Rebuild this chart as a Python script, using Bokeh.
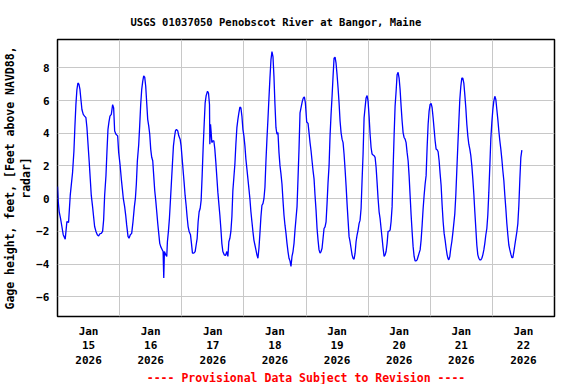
from bokeh.plotting import figure
from bokeh.models import FixedTicker, Range1d, Title
from bokeh.embed import file_html
from bokeh.resources import INLINE

# Hours since 2026-01-15 00:00 and gage height (ft above NAVD88)
hours = [
    0.0, 0.3, 0.66, 1.17, 1.69, 2.21, 2.98, 3.63, 4.27, 4.92, 5.43, 5.82, 6.34, 6.72, 7.11, 7.5, 7.88,
    8.27, 8.66, 9.05, 9.43, 9.95, 10.46, 10.98, 11.37, 11.75, 12.27, 12.66, 13.05, 13.56, 13.95, 14.34,
    14.85, 15.37, 15.88, 16.4, 16.92, 17.43, 17.82, 18.21, 18.72, 19.11, 19.5, 19.88, 20.27, 20.79,
    21.3, 21.69, 22.08, 22.59, 23.24, 23.63, 24.14, 24.66, 25.05, 25.43, 25.95, 26.34, 26.72, 27.24,
    27.63, 28.14, 28.66, 29.17, 29.69, 30.08, 30.46, 30.85, 31.37, 31.75, 32.14, 32.53, 32.92, 33.3,
    33.69, 34.08, 34.46, 34.85, 35.24, 35.63, 36.01, 36.4, 36.79, 37.17, 37.56, 37.95, 38.34, 38.72,
    39.11, 39.5, 39.88, 40.4, 40.79, 41.05, 41.3, 41.82, 42.21, 42.46, 42.85, 43.24, 43.63, 44.01,
    44.4, 44.79, 45.17, 45.56, 45.95, 46.46, 46.85, 47.37, 47.75,
    48.53, 48.91, 49.3, 49.69, 50.07, 50.46, 50.85, 51.37, 51.75, 52.14, 52.66, 53.17, 53.56, 53.95,
    54.33, 54.72, 55.11, 55.49, 55.88, 56.27, 56.66, 57.04, 57.43, 57.95, 58.33, 58.72, 58.85, 59.11,
    59.37, 59.62, 60.01, 60.4, 60.78, 61.17, 61.56, 61.95, 62.33, 62.72, 63.11, 63.49, 63.88, 64.4,
    64.91, 65.43, 65.82, 66.2, 66.59, 66.98, 67.37, 67.75, 68.14, 68.53, 68.91, 69.3, 69.69, 70.07,
    70.46, 70.85, 71.24, 71.62, 72.01, 72.4, 72.78, 73.17, 73.56, 73.95, 74.33, 74.72, 75.11, 75.49,
    75.88, 76.27, 76.66, 77.04, 77.43, 77.82, 78.2, 78.59, 78.98, 79.37, 79.75, 80.14, 80.53, 80.91,
    81.3, 81.69, 82.07, 82.46, 82.85, 83.24, 83.62, 84.01, 84.4, 84.78, 85.17, 85.56, 85.95, 86.33,
    86.72, 87.11, 87.49, 87.88, 88.27, 88.66, 89.04, 89.43, 89.82, 90.2, 90.59, 90.98, 91.37, 91.75,
    92.14, 92.53, 92.91, 93.3, 93.69, 94.2, 94.59, 94.98, 95.37, 95.75,
    96.27, 96.79, 97.17, 97.56, 97.95, 98.33, 98.72, 99.11, 99.49, 99.88, 100.27, 100.65, 101.04,
    101.43, 101.81, 102.2, 102.59, 102.97, 103.36, 103.75, 104.13, 104.52, 104.91, 105.29, 105.68,
    106.07, 106.45, 106.84, 107.23, 107.61, 108.0, 108.39, 108.77, 109.16, 109.55, 109.93, 110.32,
    110.7, 111.09, 111.48, 111.86, 112.25, 112.64, 113.02, 113.41, 113.8, 114.18, 114.57, 114.96,
    115.34, 115.73, 116.12, 116.5, 116.89, 117.28, 117.66, 118.05, 118.44, 118.82, 119.21, 119.6,
    119.98, 120.37, 120.76, 121.14, 121.53, 121.92, 122.3, 122.69, 123.08, 123.46, 123.85, 124.24,
    124.62, 125.01, 125.4, 125.78, 126.17, 126.56, 126.94, 127.33, 127.71, 128.1, 128.49, 128.87,
    129.26, 129.65, 130.03, 130.42, 130.81, 131.19, 131.58, 131.97, 132.35, 132.74, 133.13, 133.51,
    133.9, 134.29, 134.67, 135.06, 135.45, 135.83, 136.22, 136.61, 136.99, 137.38, 137.77, 138.15,
    138.54, 138.93, 139.31, 139.7, 140.09, 140.47, 140.86, 141.25, 141.63, 142.02,
    142.4, 142.79, 143.18, 143.56, 143.95, 144.34, 144.72, 145.11, 145.5, 145.88, 146.27, 146.66,
    147.04, 147.43, 147.82, 148.2, 148.59, 148.98, 149.36, 149.75, 150.14, 150.52, 150.91, 151.17,
    151.55, 151.94, 152.33, 152.71, 153.1, 153.49, 153.87, 154.26, 154.65, 155.03, 155.42, 155.81,
    156.19, 156.58, 156.97, 157.35, 157.74, 158.13, 158.51, 158.9, 159.29, 159.67, 160.06, 160.45,
    160.83, 161.22, 161.61, 161.99, 162.38, 162.77, 163.15, 163.54, 163.93, 164.31, 164.7, 165.08,
    165.47, 165.86, 166.24, 166.63, 167.02, 167.4, 167.79, 168.18, 168.56, 168.95, 169.34, 169.72,
    170.11, 170.5, 170.88, 171.27, 171.66, 172.04, 172.43, 172.82, 173.2, 173.59, 173.98, 174.36,
    174.75, 175.14, 175.52, 175.91, 176.3, 176.68, 177.07, 177.46, 177.84, 178.23, 178.62, 179.0,
    179.39,
]
gage_ft = [
    0.75, -0.2, -0.8, -1.2, -1.7, -2.2, -2.47, -1.4, -1.45, 0.2, 1.0, 1.6, 2.9, 4.4, 5.75, 6.67, 7.07,
    7.0, 6.7, 6.06, 5.45, 5.15, 5.05, 4.95, 4.35, 3.43, 2.2, 1.2, 0.2, -0.5, -1.1, -1.7,
    -2.0, -2.2, -2.28, -2.14, -2.12, -2.0, -1.3, 0.2, 1.4, 2.9, 4.24, 4.7, 5.05, 5.15,
    5.75, 5.55, 4.14, 3.94, 3.84, 2.83, 2.12, 1.2, 0.6, 0.0, -0.5, -1.0, -1.6, -2.3,
    -2.42, -2.2, -2.12, -1.4, -0.5, 0.0, 0.9, 2.3, 3.3, 4.45, 5.75, 6.67, 7.17, 7.5,
    7.43, 6.87, 5.86, 4.85, 4.45, 3.94, 3.03, 2.53, 2.32, 1.41, 0.5, -0.1, -0.8, -1.5,
    -2.12, -2.73, -2.93, -3.1, -3.23, -4.85, -3.23, -3.43, -3.53, -2.63, -2.0, -1.2, -0.1, 1.0,
    2.12, 3.23, 3.74, 4.14, 4.24, 4.14, 3.84, 3.64, 3.23,
    1.72, 1.0, 0.2, -0.4, -1.1, -1.7, -2.0, -2.2, -2.73, -3.33, -3.33, -3.23, -2.83, -2.42,
    -1.41, -0.8, -0.6, -0.1, 1.41, 3.13, 4.55, 5.86, 6.3, 6.57, 6.46, 5.76, 3.33, 4.55,
    4.04, 3.43, 3.54, 3.54, 3.03, 2.22, 1.31, 0.4, -0.3, -1.0, -1.82, -2.73, -3.23, -3.43,
    -3.47, -3.23, -3.53, -2.63, -2.42, -2.0, -1.1, 0.5, 1.31, 2.12, 3.33, 4.34, 4.85, 5.25,
    5.6, 5.56, 5.05, 4.24, 3.84, 3.23, 2.42, 1.82, 1.21, 0.6, 0.0, -0.8, -1.41, -2.0,
    -2.53, -2.83, -3.13, -3.43, -3.64, -3.03, -2.12, -1.1, -0.4, -0.3, 0.0, 0.7, 2.32, 3.64,
    4.85, 6.16, 7.37, 8.48, 8.99, 8.69, 7.47, 5.76, 4.34, 3.94, 4.04, 2.83, 2.02, 1.52,
    0.9, -0.1, -1.0, -1.62, -2.12, -2.73, -3.23, -3.64, -3.8, -4.14, -3.53, -3.23, -2.73, -1.92,
    -1.21, -0.5, 1.21, 3.03, 5.25, 5.66, 5.96, 6.16, 6.22, 5.86,
    4.69, 4.6, 4.04, 3.43, 2.93, 2.32, 1.72, 1.21, 0.2, -0.7, -1.82, -2.53, -3.13,
    -3.33, -3.23, -3.03, -2.42, -1.82, -1.72, -1.41, -0.3, 1.0, 2.02, 3.84, 5.15,
    6.26, 7.47, 8.59, 8.65, 8.28, 7.58, 6.77, 5.86, 4.75, 4.04, 3.64, 3.43,
    2.73, 1.82, 0.81, -0.3, -1.31, -2.32, -2.63, -3.03, -3.43, -3.64, -3.7, -3.33,
    -2.63, -2.22, -1.92, -1.52, -1.31, -0.6, 1.11, 2.73, 4.95, 5.56, 6.16, 6.3,
    5.96, 5.05, 3.94, 3.13, 2.73, 2.67, 2.63, 2.53, 1.92, 1.0, 0.0, -0.8,
    -1.21, -1.82, -2.42, -3.03, -3.53, -3.43, -3.23, -2.73, -2.0, -1.98, -1.92, -1.41,
    -0.5, 1.82, 3.84, 5.66, 6.57, 7.58, 7.72, 7.37, 6.67, 5.66, 4.75, 4.04,
    3.74, 3.64, 3.43, 2.83, 2.32, 1.41, 0.2, -1.0, -2.0, -2.93, -3.53, -3.8,
    -3.8, -3.74, -3.53, -3.33, -3.13, -2.53, -1.62, -0.6, 0.2, 0.9,
    1.41, 3.13, 4.55, 5.35, 5.76, 5.82, 5.56, 4.95, 4.24, 3.54, 3.03, 2.99,
    2.87, 2.32, 1.52, 0.81, -0.4, -1.41, -2.12, -2.53, -3.03, -3.43, -3.68, -3.74,
    -3.53, -3.03, -2.63, -2.12, -1.52, -0.91, 0.2, 1.72, 3.23, 4.65, 6.06, 6.87,
    7.37, 7.37, 7.07, 6.36, 5.56, 4.55, 3.84, 3.33, 3.03, 2.63, 2.02, 1.21,
    0.3, -0.8, -1.82, -2.83, -3.43, -3.64, -3.74, -3.74, -3.64, -3.43, -3.13, -2.73,
    -2.22, -1.82, -1.0, 0.4, 2.02, 3.64, 4.65, 5.45, 5.96, 6.26, 6.06, 5.45,
    4.85, 4.14, 3.54, 3.03, 2.42, 1.72, 1.11, 0.2, -0.6, -1.52, -2.22, -2.83,
    -3.13, -3.39, -3.6, -3.6, -3.23, -2.83, -2.42, -2.02, -1.52, -0.4, 1.21, 2.53,
    2.97,
]

tick_hours = [12, 36, 60, 84, 108, 132, 156, 180]
tick_labels = ["Jan\n15\n2026", "Jan\n16\n2026", "Jan\n17\n2026", "Jan\n18\n2026",
               "Jan\n19\n2026", "Jan\n20\n2026", "Jan\n21\n2026", "Jan\n22\n2026"]
grid_hours = [24, 48, 72, 96, 120, 144, 168]
y_ticks = [-6, -4, -2, 0, 2, 4, 6, 8]

FONT = "DejaVu Sans Mono"

p = figure(width=576, height=384, output_backend="svg", toolbar_location=None,
           x_range=Range1d(0, 192), y_range=Range1d(-7.2, 9.73),
           min_border_left=57, min_border_right=22, min_border_top=39, min_border_bottom=68,
           background_fill_color="white", border_fill_color="white")

p.title.text = "USGS 01037050 Penobscot River at Bangor, Maine"
p.title.text_font = FONT
p.title.text_font_size = "10.5px"
p.title.text_font_style = "bold"
p.title.text_color = "black"
p.title.align = "left"
p.title.offset = 73
p.title.standoff = 24

p.line(hours, gage_ft, line_color="#0000FF", line_width=1.3)

p.outline_line_color = "black"
p.outline_line_width = 1.5
p.outline_line_alpha = 1.0

for ax in (p.xaxis[0], p.yaxis[0]):
    ax.axis_line_color = None
    ax.major_tick_in = 0
    ax.major_tick_out = 0
    ax.minor_tick_in = 0
    ax.minor_tick_out = 0
    ax.major_label_text_font = FONT
    ax.major_label_text_font_size = "11px"
    ax.major_label_text_font_style = "bold"
    ax.major_label_text_color = "black"

p.xaxis.ticker = FixedTicker(ticks=tick_hours)
p.xaxis.major_label_overrides = dict(zip(tick_hours, tick_labels))
p.xaxis.major_label_standoff = 8
p.xaxis.major_label_text_line_height = 1.15

p.yaxis.ticker = FixedTicker(ticks=y_ticks)
p.yaxis.major_label_standoff = 8
p.yaxis.axis_label = "Gage height, feet, [Feet above NAVD88,\nradar]"
p.yaxis.axis_label_text_font = FONT
p.yaxis.axis_label_text_font_size = "11.5px"
p.yaxis.axis_label_text_font_style = "bold"
p.yaxis.axis_label_text_color = "black"
p.yaxis.axis_label_text_line_height = 1.15
p.yaxis.axis_label_standoff = 0

p.xgrid.ticker = FixedTicker(ticks=grid_hours)
for g in (p.xgrid[0], p.ygrid[0]):
    g.grid_line_color = "#C8C8C8"
    g.grid_line_width = 1

footer = Title(text="---- Provisional Data Subject to Revision ----", align="center",
               text_color="#FF0000", text_font=FONT, text_font_size="11.5px",
               text_font_style="bold", standoff=-3)
p.add_layout(footer, "below")

open("out.html", "w").write(file_html(p, INLINE))
